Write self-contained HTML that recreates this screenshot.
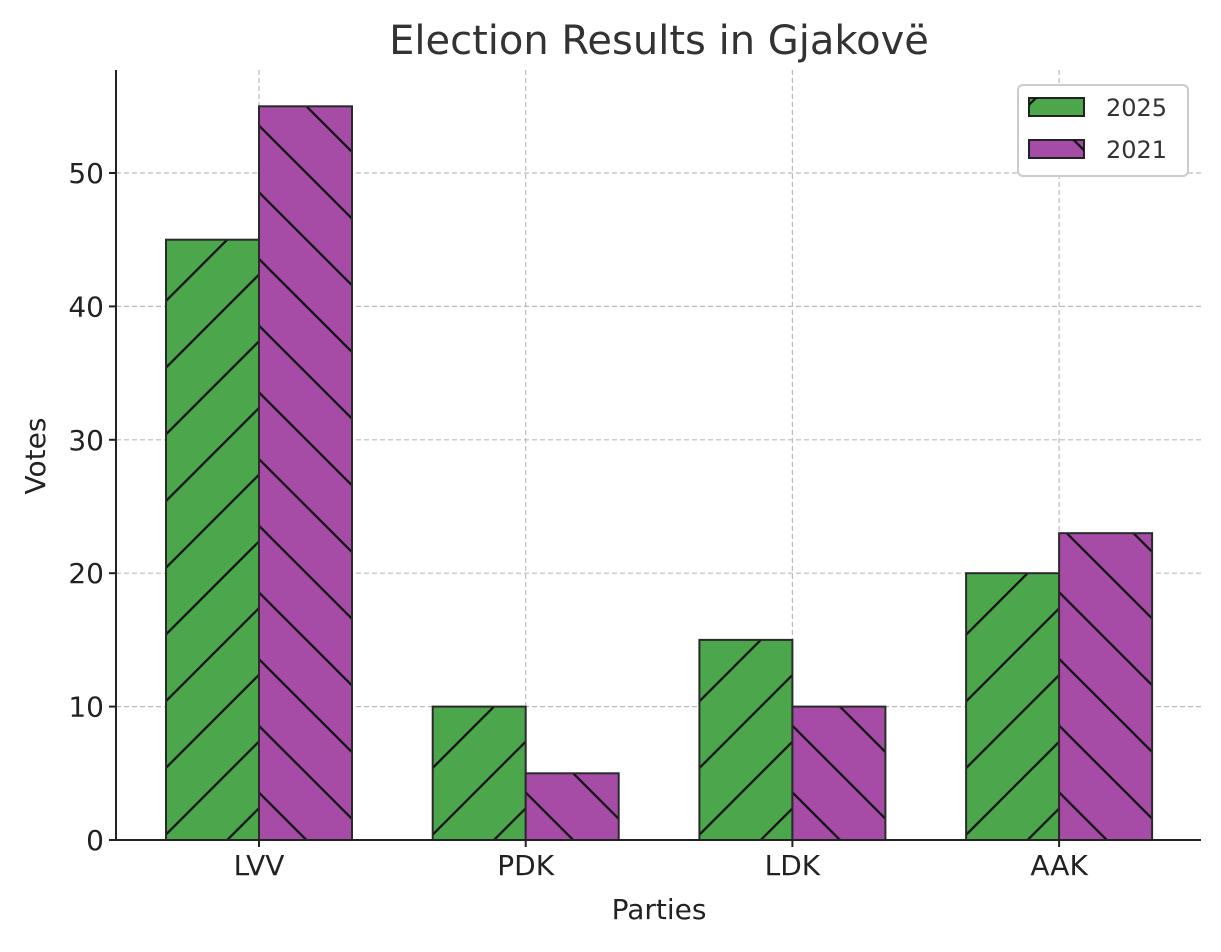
<!DOCTYPE html>
<html><head><meta charset="utf-8"><style>
body{margin:0;background:#fff}
svg text{font-family:"DejaVu Sans","Liberation Sans",sans-serif;fill:#222}
</style></head><body>
<svg id="chart" width="1221" height="947" xmlns="http://www.w3.org/2000/svg">
<defs>
<pattern id="hatchF" patternUnits="userSpaceOnUse" width="66.7" height="66.7">
<path d="M0,66.7 L66.7,0 M-10,10 L10,-10 M56.7,76.7 L76.7,56.7" stroke="#111" stroke-width="2.2"/>
</pattern>
<pattern id="hatchB" patternUnits="userSpaceOnUse" width="66.7" height="66.7">
<path d="M0,0 L66.7,66.7 M-10,56.7 L10,76.7 M56.7,-10 L76.7,10" stroke="#111" stroke-width="2.2"/>
</pattern>
</defs>
<text x="659" y="54" text-anchor="middle" font-size="40" style="fill:#333">Election Results in Gjakovë</text>
<g id="grid"></g>
<g id="bars"></g>
<line x1="116" y1="70" x2="116" y2="841" stroke="#222" stroke-width="2"/>
<line x1="115" y1="840" x2="1201" y2="840" stroke="#222" stroke-width="2"/>
<g id="ticks"></g>
<text x="659" y="919" text-anchor="middle" font-size="28">Parties</text>
<text transform="translate(45,456) rotate(-90)" text-anchor="middle" font-size="28">Votes</text>
<g>
<rect x="1018" y="85" width="170" height="91" rx="5" fill="#fff" stroke="#ccc" stroke-width="2"/>
<g>
<rect x="1029" y="98" width="55" height="18" fill="#4ca64c" stroke="#222" stroke-width="2"/>
<rect x="1029" y="98" width="55" height="18" fill="url(#hatchF)"/>
<text x="1106" y="116" font-size="24" style="fill:#333">2025</text></g>
<g>
<rect x="1029" y="140" width="55" height="18" fill="#a64ca6" stroke="#222" stroke-width="2"/>
<rect x="1029" y="140" width="55" height="18" fill="url(#hatchB)"/>
<text x="1106" y="158" font-size="24" style="fill:#333">2021</text></g>
</g>
</svg>
<script>
const categories=["LVV","PDK","LDK","AAK"];
const votes2025=[45,10,15,20];
const votes2021=[55,5,10,23];
const yTicks=[0,10,20,30,40,50];
const NS="http://www.w3.org/2000/svg";
const y0=840,pxPer=13.34,x0=259,step=266.7,bw=93;
const yS=v=>y0-v*pxPer;
const xS=i=>x0+i*step;
function mk(t,a,p){const e=document.createElementNS(NS,t);for(const k in a)e.setAttribute(k,a[k]);p.appendChild(e);return e;}
const grid=document.getElementById('grid'),bars=document.getElementById('bars'),ticks=document.getElementById('ticks');
yTicks.forEach(v=>{
 if(v>0){const g=mk('line',{x1:116,x2:1201,y1:yS(v),y2:yS(v),stroke:'#bbb','stroke-width':1.2,'stroke-dasharray':'5,3'},grid);
 
 }
 const t=mk('line',{x1:109,x2:116,y1:yS(v),y2:yS(v),stroke:'#222','stroke-width':2},ticks);
 
 
 const l=mk('text',{x:104,y:yS(v)+10,'text-anchor':'end','font-size':28},ticks);l.textContent=v;
 
 
});
categories.forEach((c,i)=>{
 const g=mk('line',{x1:xS(i),x2:xS(i),y1:70,y2:840,stroke:'#bbb','stroke-width':1.2,'stroke-dasharray':'5,3'},grid);
 
 
 const t=mk('line',{x1:xS(i),x2:xS(i),y1:840,y2:847,stroke:'#222','stroke-width':2},ticks);
 
 
 const l=mk('text',{x:xS(i),y:875,'text-anchor':'middle','font-size':28},ticks);l.textContent=c;
 
 
 [[votes2025,-bw,'#4ca64c','hatchF','2025'],[votes2021,0,'#a64ca6','hatchB','2021']].forEach(s=>{
  const v=s[0][i],x=xS(i)+s[1],y=yS(v),h=y0-y;
  const gr=mk('g',{},bars);
  
  
  mk('rect',{x:x,y:y,width:bw,height:h,fill:s[2]},gr);
  mk('rect',{x:x,y:y,width:bw,height:h,fill:'url(#'+s[3]+')'},gr);
  mk('rect',{x:x,y:y,width:bw,height:h,fill:'none',stroke:'#2a2a2a','stroke-width':2},gr);
 });
});
</script>
</body></html>
